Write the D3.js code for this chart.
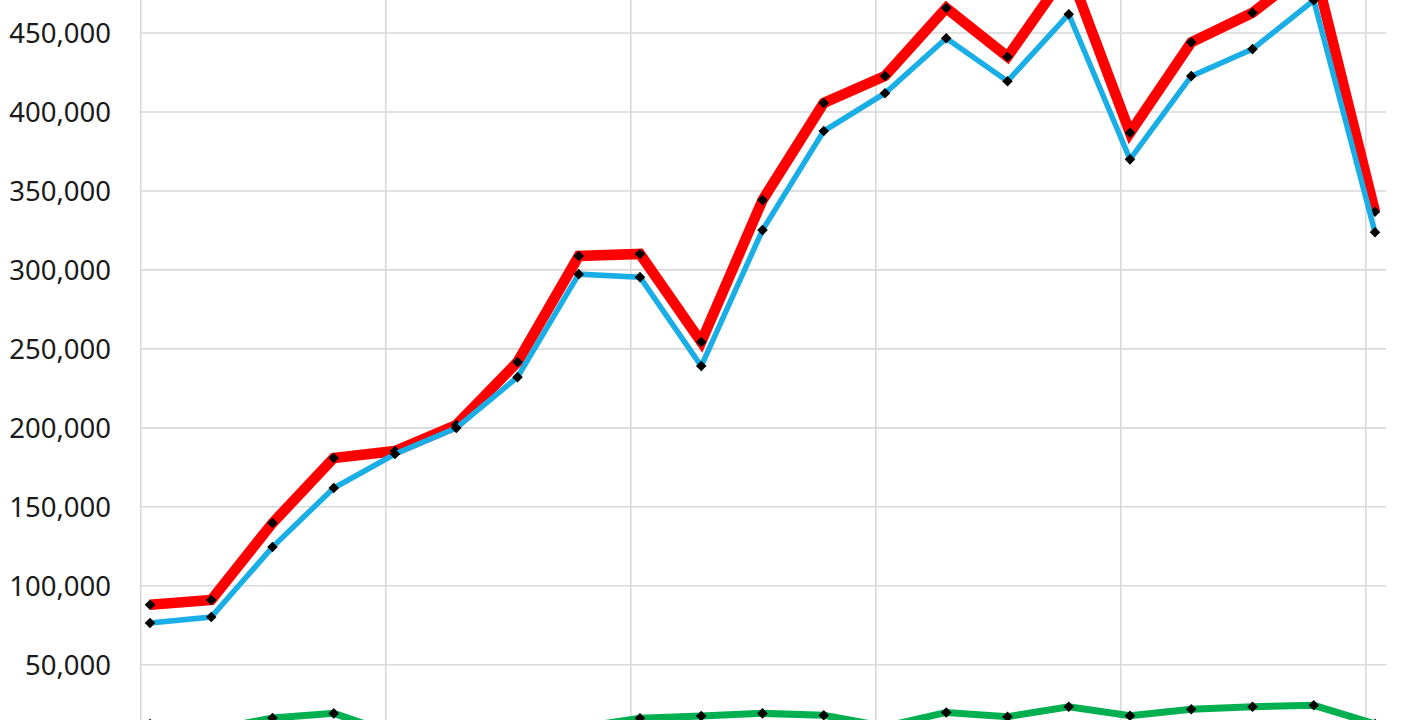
<!DOCTYPE html>
<html>
<head>
<meta charset="utf-8">
<script src="https://cdn.jsdelivr.net/npm/d3@7"></script>
<style>
  html, body { margin: 0; padding: 0; background: #fff; overflow: hidden; }
  svg { display: block; }
</style>
</head>
<body>
<svg id="chart" width="1410" height="720"></svg>
<script>
// ---- data ----
const categories = [0,1,2,3,4,5,6,7,8,9,10,11,12,13,14,15,16,17,18,19,20];
const redValues   = [88000, 91000, 139700, 180900, 185300, 201800, 241700, 308800, 310100, 254400, 344200, 405700, 422800, 465800, 435000, 490000, 386800, 444100, 462800, 493000, 336800];
const blueValues  = [76400, 80200, 124500, 161900, 183400, 199900, 232100, 297300, 295400, 239100, 325200, 387900, 411900, 446700, 419500, 461900, 370000, 422700, 439800, 470700, 323800];
const greenValues = [12500, 8800, 16300, 19200, 6100, 7000, 8500, 10300, 16100, 17500, 19200, 18000, 10900, 19800, 17100, 23400, 17700, 21800, 23400, 24300, 12500];
const yTicks = [0, 50000, 100000, 150000, 200000, 250000, 300000, 350000, 400000, 450000, 500000];
const yLabels = [50000, 100000, 150000, 200000, 250000, 300000, 350000, 400000, 450000];
const xGridValues = [-0.15, 3.85, 7.85, 11.85, 15.85, 19.85];

// ---- scales ----
const svg = d3.select("#chart");
const x = d3.scaleLinear().domain([0, 20]).range([150, 1375]);
const y = d3.scaleLinear().domain([0, 450000]).range([743.7, 33]);
const plotLeft = 141, plotRight = 1386;

// gridlines
const grid = svg.append("g");
grid.selectAll("line.h").data(yTicks).join("line")
  .attr("x1", plotLeft).attr("x2", plotRight)
  .attr("y1", d => y(d)).attr("y2", d => y(d))
  .attr("stroke", "#d9d9d9").attr("stroke-width", 1.6);
grid.selectAll("line.v").data(xGridValues).join("line")
  .attr("x1", d => x(d)).attr("x2", d => x(d))
  .attr("y1", y(0)).attr("y2", y(500000))
  .attr("stroke", "#d9d9d9").attr("stroke-width", 1.6);

// y axis labels
const fmt = d3.format(",");
const yAxis = d3.axisLeft(y).tickValues(yLabels).tickFormat(fmt).tickSize(0).tickPadding(0);
const ya = svg.append("g").attr("transform", "translate(111,0)").call(yAxis);
ya.select(".domain").remove();
ya.selectAll("text")
  .attr("font-family", "'Noto Sans', 'Open Sans', sans-serif")
  .attr("font-size", 27.5)
  .attr("fill", "#1a1a1a")
  .attr("dy", "0.34em");

// series
const series = [
  { values: redValues,   color: "#ff0000", width: 10.5 },
  { values: blueValues,  color: "#1aaee6", width: 5.5 },
  { values: greenValues, color: "#00b050", width: 7 }
];
const line = d3.line().x((d, i) => x(categories[i])).y(d => y(d));

series.forEach(s => {
  const g = svg.append("g");
  g.append("path").datum(s.values)
    .attr("d", line)
    .attr("fill", "none")
    .attr("stroke", s.color)
    .attr("stroke-width", s.width)
    .attr("stroke-linejoin", "miter");
  g.selectAll("path.m").data(s.values).join("path")
    .attr("class", "m")
    .attr("d", d3.symbol().type(d3.symbolSquare).size(56))
    .attr("transform", (d, i) => `translate(${x(categories[i])},${y(d)}) rotate(45)`)
    .attr("fill", "#000");
});
</script>
</body>
</html>
